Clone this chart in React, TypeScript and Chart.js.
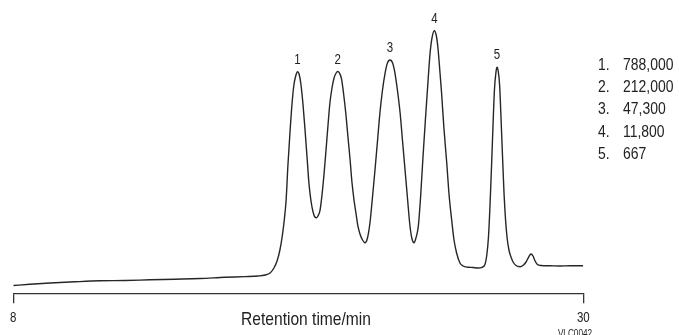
import React, { useEffect, useRef } from "react";
import { Chart, registerables } from "chart.js";

Chart.register(...registerables);

// Retention time (min) and detector response (arbitrary units)
const retentionTime = [
  8.0, 8.64, 9.42, 10.38, 11.35, 12.31, 13.28, 14.24, 15.21, 16.17, 16.94, 17.45, 17.72, 17.91,
  18.06, 18.18, 18.29, 18.37, 18.45, 18.53, 18.6, 18.68, 18.76, 18.83, 18.91, 18.97, 19.03, 19.1,
  19.18, 19.26, 19.34, 19.41, 19.49, 19.57, 19.64, 19.7, 19.76, 19.84, 19.91, 19.99, 20.07, 20.15,
  20.22, 20.3, 20.38, 20.46, 20.52, 20.59, 20.67, 20.74, 20.84, 20.92, 21.0, 21.07, 21.15, 21.23,
  21.3, 21.38, 21.48, 21.57, 21.67, 21.77, 21.86, 21.96, 22.06, 22.15, 22.25, 22.35, 22.44, 22.54,
  22.64, 22.73, 22.83, 22.93, 23.02, 23.12, 23.22, 23.31, 23.39, 23.47, 23.54, 23.63, 23.72, 23.81,
  23.91, 24.01, 24.08, 24.16, 24.25, 24.33, 24.39, 24.47, 24.53, 24.62, 24.73, 24.82, 24.92, 25.01,
  25.11, 25.24, 25.36, 25.55, 25.74, 25.94, 26.09, 26.21, 26.28, 26.34, 26.4, 26.46, 26.52, 26.57,
  26.63, 26.67, 26.71, 26.77, 26.82, 26.88, 26.94, 27.0, 27.06, 27.13, 27.21, 27.29, 27.4, 27.56,
  27.69, 27.79, 27.89, 27.98, 28.06, 28.14, 28.23, 28.37, 28.71, 29.1, 29.49, 30.0,
];
const response = [
  2.75, 3.18, 3.64, 4.06, 4.41, 4.52, 4.77, 4.98, 5.22, 5.65, 5.89, 6.11, 6.46, 7.17,
  8.93, 11.4, 15.28, 19.52, 25.17, 32.93, 45.29, 56.94, 67.17, 73.53, 77.06, 78.22, 77.41, 73.88,
  66.82, 57.64, 47.76, 38.93, 32.58, 28.7, 26.93, 26.69, 27.29, 29.4, 34.35, 41.76, 50.58, 59.76,
  67.17, 72.47, 76.0, 77.76, 78.29, 77.76, 75.64, 71.06, 62.94, 54.82, 47.05, 39.29, 32.93, 27.99,
  23.76, 20.93, 18.81, 17.86, 19.52, 25.17, 33.64, 43.52, 54.11, 63.64, 71.76, 77.76, 81.29, 82.35,
  81.29, 77.76, 71.41, 63.64, 54.11, 43.52, 32.93, 23.76, 19.17, 17.86, 19.52, 23.51, 33.99, 47.76,
  61.88, 75.29, 84.12, 90.12, 92.69, 90.82, 86.59, 77.76, 70.7, 58.35, 45.99, 34.7, 25.87, 18.81,
  14.23, 10.7, 9.64, 9.21, 9.11, 8.93, 9.18, 10.34, 13.87, 19.87, 31.17, 45.29, 60.47, 71.76,
  78.12, 79.77, 78.82, 73.53, 62.94, 48.82, 35.4, 25.87, 19.52, 15.28, 12.81, 11.05, 9.81, 9.39,
  9.99, 11.05, 12.81, 13.87, 13.17, 11.4, 10.17, 9.81, 9.71, 9.64, 9.74, 9.74,
];

// Peak annotations
const peakLabels = ["1", "2", "3", "4", "5"];
const peakTimes = [18.97, 20.52, 22.54, 24.25, 26.67];
const peakHeights = [78.22, 78.29, 82.35, 92.69, 79.77];

// Legend: peak number and molecular weight
const legendNumbers = ["1.", "2.", "3.", "4.", "5."];
const legendValues = ["788,000", "212,000", "47,300", "11,800", "667"];

const xTicks = [8, 30];
const xTitle = "Retention time/min";
const figureCode = "VLC0042";

const FONT = '"Liberation Sans", Arial, sans-serif';
const TEXT = "#222222";
const NARROW = 0.82;

function narrowText(ctx: CanvasRenderingContext2D, text: string, x: number, y: number) {
  ctx.save();
  ctx.translate(x, y);
  ctx.scale(NARROW, 1);
  ctx.fillText(text, 0, 0);
  ctx.restore();
}

export default function App() {
  const canvasRef = useRef<HTMLCanvasElement | null>(null);

  useEffect(() => {
    document.body.style.margin = "0";
    const canvas = canvasRef.current;
    if (!canvas) return;

    const annotations = {
      id: "annotations",
      afterDraw(chart: any) {
        const { ctx, scales } = chart;
        const xs = scales.x;
        const ys = scales.y;
        ctx.save();
        ctx.fillStyle = TEXT;
        ctx.textBaseline = "alphabetic";
        // peak numbers
        ctx.font = `14px ${FONT}`;
        ctx.textAlign = "center";
        peakLabels.forEach((lab, i) => {
          const px = xs.getPixelForValue(peakTimes[i]);
          const py = ys.getPixelForValue(peakHeights[i]);
          narrowText(ctx, lab, px, py - 8);
        });
        // x tick labels
        ctx.font = `14px ${FONT}`;
        xTicks.forEach((v) => {
          narrowText(ctx, String(v), xs.getPixelForValue(v), 322);
        });
        // axis title
        ctx.font = `19px ${FONT}`;
        narrowText(ctx, xTitle, 306, 325);
        // legend list
        ctx.font = `17px ${FONT}`;
        ctx.textAlign = "left";
        const baseY = 70;
        const step = 22.2;
        legendNumbers.forEach((n, i) => {
          narrowText(ctx, n, 598, baseY + i * step);
          narrowText(ctx, legendValues[i], 623, baseY + i * step);
        });
        // figure code
        ctx.font = `10px ${FONT}`;
        ctx.textAlign = "center";
        ctx.textBaseline = "top";
        narrowText(ctx, figureCode, 575, 329);
        ctx.restore();
      },
    };

    const chart = new Chart(canvas, {
      type: "line",
      data: {
        datasets: [
          {
            data: retentionTime.map((t, i) => ({ x: t, y: response[i] })),
            borderColor: "#262626",
            borderWidth: 1.4,
            pointRadius: 0,
            fill: false,
            cubicInterpolationMode: "monotone",
          },
        ],
      },
      options: {
        responsive: false,
        animation: false,
        devicePixelRatio: 1,
        layout: { padding: { left: 13.3, right: 95.7, top: 10, bottom: 0 } },
        plugins: { legend: { display: false }, tooltip: { enabled: false } },
        scales: {
          x: {
            type: "linear",
            min: 8,
            max: 30,
            afterBuildTicks: (scale: any) => {
              scale.ticks = xTicks.map((v) => ({ value: v }));
            },
            afterFit: (scale: any) => {
              scale.height = 41.7;
            },
            grid: {
              display: true,
              drawOnChartArea: false,
              drawTicks: true,
              tickLength: 10,
              color: "#333",
              lineWidth: 1.3,
            },
            border: { display: true, color: "#333", width: 1.3 },
            ticks: { display: false },
          },
          y: {
            display: false,
            min: 0,
            max: 100,
          },
        },
      },
      plugins: [annotations],
    });

    return () => chart.destroy();
  }, []);

  return (
    <div style={{ width: 679, height: 335 }}>
      <canvas ref={canvasRef} width={679} height={335} />
    </div>
  );
}
